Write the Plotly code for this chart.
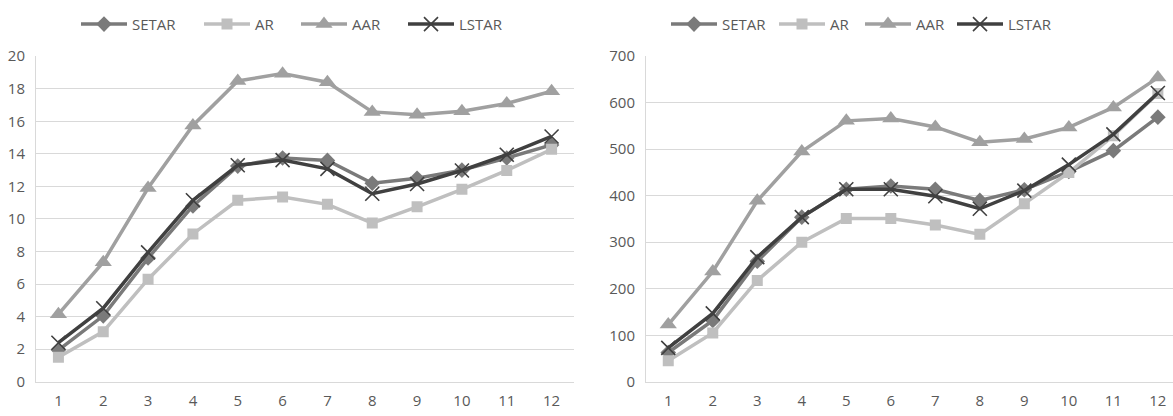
import plotly.graph_objects as go

# Forecast horizon (steps ahead)
steps = [1, 2, 3, 4, 5, 6, 7, 8, 9, 10, 11, 12]

# Left panel
setar_l = [1.95, 4.05, 7.6, 10.8, 13.25, 13.75, 13.6, 12.2, 12.5, 13.0, 13.75, 14.55]
ar_l = [1.5, 3.08, 6.3, 9.08, 11.15, 11.35, 10.9, 9.75, 10.75, 11.82, 12.98, 14.28]
aar_l = [4.15, 7.35, 11.9, 15.75, 18.48, 18.93, 18.4, 16.58, 16.4, 16.62, 17.1, 17.85]
lstar_l = [2.4, 4.52, 7.95, 11.15, 13.3, 13.62, 13.08, 11.55, 12.15, 12.98, 13.95, 15.07]

# Right panel
setar_r = [63, 132, 259, 354, 414, 421, 414, 390, 413, 452, 497, 569]
ar_r = [45, 105, 218, 300, 351, 351, 337, 317, 383, 450, 529, 620]
aar_r = [123, 237, 389, 495, 561, 566, 548, 515, 522, 547, 590, 654]
lstar_r = [73, 147, 268, 354, 414, 414, 399, 372, 411, 467, 532, 621]

names = ["SETAR", "AR", "AAR", "LSTAR"]
colors = ["#7a7a7a", "#bfbfbf", "#a0a0a0", "#404040"]
symbols = ["diamond", "square", "triangle-up", "x-thin-open"]
sizes = [12, 11, 15, 14]

# left edge of each legend entry (px), per panel
legend_x_left = [76, 199, 296, 403]
legend_x_right = [666, 774, 860, 952]

FONT = "Open Sans"
TXT = "#595959"
GRID = "#d9d9d9"
W, H = 1173, 416

fig = go.Figure()

panels = [
    ([setar_l, ar_l, aar_l, lstar_l], "x", "y", legend_x_left, 0),
    ([setar_r, ar_r, aar_r, lstar_r], "x2", "y2", legend_x_right, 4),
]
legend_layouts = {}
for series, xa, ya, lx, offset in panels:
    for i, (vals, nm, col, sym, sz) in enumerate(zip(series, names, colors, symbols, sizes)):
        marker = dict(symbol=sym, size=sz, color=col)
        if sym.startswith("x"):
            marker["line"] = dict(width=1.6, color=col)
        k = offset + i + 1
        lg = "legend" if k == 1 else f"legend{k}"
        fig.add_trace(go.Scatter(
            x=steps, y=vals, name=nm, mode="lines+markers",
            line=dict(color=col, width=3.5), marker=marker,
            xaxis=xa, yaxis=ya, legend=lg,
        ))
        legend_layouts[lg] = dict(
            orientation="h", yanchor="middle", y=(H - 14) / H,
            xanchor="left", x=lx[i] / W,
            font=dict(family=FONT, size=15, color=TXT),
            itemwidth=46, bgcolor="rgba(0,0,0,0)",
            itemclick=False, itemdoubleclick=False,
        )

ydom = [(H - 389.5) / H, (H - 47.5) / H]

axis_common = dict(
    showgrid=False, showline=True, linecolor=GRID, linewidth=1,
    ticks="outside", ticklen=5, tickcolor="rgba(0,0,0,0)",
    tickfont=dict(family=FONT, size=15, color=TXT),
    zeroline=False, fixedrange=True,
)
yaxis_common = dict(
    showgrid=True, gridcolor=GRID, gridwidth=1,
    showline=True, linecolor=GRID, linewidth=1,
    ticks="outside", ticklen=7, tickcolor="rgba(0,0,0,0)",
    tickfont=dict(family=FONT, size=15, color=TXT),
    zeroline=False, fixedrange=True,
)

fig.update_layout(
    width=W, height=H,
    margin=dict(l=0, r=0, t=0, b=0),
    paper_bgcolor="white", plot_bgcolor="white",
    showlegend=True,
    xaxis=dict(domain=[36 / W, 574 / W], range=[0.5, 12.5],
               tickmode="array", tickvals=steps, ticktext=[str(s) for s in steps],
               **axis_common),
    yaxis=dict(domain=ydom, range=[0, 20], dtick=2, anchor="x", **yaxis_common),
    xaxis2=dict(domain=[646 / W, 1.0], range=[0.5, 12.34], anchor="y2",
                tickmode="array", tickvals=steps, ticktext=[str(s) for s in steps],
                **axis_common),
    yaxis2=dict(domain=ydom, range=[0, 700], dtick=100, anchor="x2", **yaxis_common),
    **legend_layouts,
)

fig.write_html("out.html")
